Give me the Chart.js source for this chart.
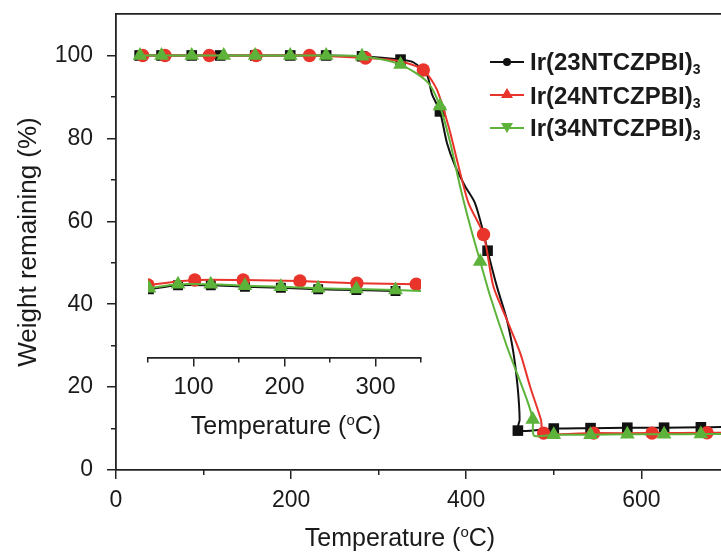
<!DOCTYPE html>
<html>
<head>
<meta charset="utf-8">
<script src="https://cdn.jsdelivr.net/npm/chart.js@4.4.0/dist/chart.umd.min.js"></script>
<style>
  html, body { margin: 0; padding: 0; background: #fff; overflow: hidden; }
  #wrap { position: relative; width: 721px; height: 554px; font-family: "Liberation Sans", Arial, sans-serif; color: #1a1a1a; }
  #wrap canvas { position: absolute; left: 0; top: 0; }
  .atitle { position: absolute; font-size: 25px; line-height: 25px; white-space: nowrap; transform: translateX(-50%); }
  .atitle sup { font-size: 15px; line-height: 0; vertical-align: 9px; }
  .lg-row { position: absolute; left: 490px; width: 230px; height: 34px; }
  .lg-line { position: absolute; left: 0; width: 34px; height: 2px; }
  .lg-mk { position: absolute; }
  .lg-txt { position: absolute; left: 40px; font-weight: bold; font-size: 24px; line-height: 24px; white-space: nowrap; }
  .lg-txt sub { font-size: 14px; line-height: 0; vertical-align: -4px; }
</style>
</head>
<body>
<div id="wrap">
  <canvas id="main" width="721" height="554"></canvas>
  <canvas id="inset" width="721" height="554"></canvas>
  <div id="legend"></div>
  <div class="atitle" style="left:400px; top:525px;">Temperature (<sup>o</sup>C)</div>
  <div class="atitle" style="left:286px; top:413px;">Temperature (<sup>o</sup>C)</div>
</div>
<script>
'use strict';

/* ── Data ────────────────────────────────────────────────────────────────── */
// main TGA curves: temperature (°C), weight (%), marker flag (1 = symbol drawn)
const t23 = [27, 52, 86.5, 119, 159, 199, 240, 281, 325, 340, 355, 361, 370, 378, 387.4, 398.9, 410, 419.8, 424.4, 435, 446.5, 454, 458.7, 461, 459, 500, 542, 584, 626, 668, 691];
const w23 = [100, 100, 100, 100, 100, 100, 100, 99.8, 99.0, 98.3, 95.4, 90.6, 86.5, 78.9, 73.3, 68.4, 64.4, 57.2, 52.9, 44.3, 36.2, 28.2, 20.1, 12.1, 9.5, 10.0, 10.1, 10.2, 10.2, 10.3, 10.35];
const m23 = [1, 1, 1, 1, 1, 1, 1, 1, 1, 0, 0, 0, 1, 0, 0, 0, 0, 0, 1, 0, 0, 0, 0, 0, 1, 1, 1, 1, 1, 1, 0];

const t24 = [30.5, 56, 106.6, 160, 221, 285, 324.6, 351, 366.4, 379.8, 391.2, 402.6, 419.8, 431, 446.5, 461.7, 473, 485.4, 488.4, 545.5, 612.2, 675, 691];
const w24 = [100, 100, 100, 100, 100, 99.4, 98.6, 96.5, 91.8, 82.9, 73.3, 64.4, 56.8, 44.3, 36.2, 28.2, 20.1, 12.1, 8.9, 8.9, 8.9, 9.0, 9.0];
const m24 = [1, 1, 1, 1, 1, 1, 0, 1, 0, 0, 0, 0, 1, 0, 0, 0, 0, 0, 1, 1, 1, 1, 0];

const t34 = [27.4, 52, 86.5, 123, 159, 199, 240, 281, 325, 356, 370, 381.7, 393, 404.6, 416, 427.4, 446.5, 469.4, 476, 477.5, 500, 542, 584, 626, 668, 691];
const w34 = [100, 100, 100, 100, 100, 100, 100, 99.8, 97.8, 93.5, 87.8, 79, 68.4, 58.8, 50.3, 41.9, 29.8, 16.9, 12.2, 8.3, 8.5, 8.5, 8.6, 8.6, 8.7, 8.7];
const m34 = [1, 1, 1, 1, 1, 1, 1, 1, 1, 0, 1, 0, 0, 0, 1, 0, 0, 0, 1, 0, 1, 1, 1, 1, 1, 0];

// inset curves (no y axis shown, arbitrary units)
const insT24 = [50, 101.4, 154.6, 217, 279.5, 344.8, 350];
const insV24 = [7.25, 7.75, 7.75, 7.65, 7.42, 7.32, 7.32];
const insT34 = [51, 83, 119, 156.5, 196, 237, 279, 322, 350];
const insV34 = [6.92, 7.32, 7.32, 7.18, 7.08, 6.92, 6.85, 6.75, 6.65];
const insT23 = [51, 83, 119, 156.5, 196, 237, 279, 322];
const insV23 = [6.82, 7.22, 7.22, 7.08, 6.98, 6.82, 6.75, 6.65];

// ticks
const xMajor = [0, 200, 400, 600];
const xMinor = [100, 300, 500];
const yMajor = [0, 20, 40, 60, 80, 100];
const yMinor = [10, 30, 50, 70, 90];
const insMajor = [100, 200, 300];
const insMinor = [50, 150, 250, 350];

const names = ['Ir(23NTCZPBI)', 'Ir(24NTCZPBI)', 'Ir(34NTCZPBI)'];

/* ── Style ───────────────────────────────────────────────────────────────── */
const BLACK = '#111111';
const RED   = '#e8342b';
const GREEN = '#5db33a';
const AX    = '#222222';
const FONT  = '"Liberation Sans", Arial, sans-serif';

Chart.defaults.font.family = FONT;
Chart.defaults.color = '#1a1a1a';

const pts = (xs, ys) => xs.map((x, i) => ({ x, y: ys[i] }));
const setTicks = vals => s => { s.ticks = vals.map(v => ({ value: v })); };

// drop the label overhang padding so the plot box sits where we put it
function noPad(s) {
  s.paddingTop = 0; s.paddingBottom = 0; s.paddingLeft = 0; s.paddingRight = 0;
}

function series(xs, ys, marks, color, style, r) {
  return {
    data: pts(xs, ys),
    borderColor: color,
    backgroundColor: color,
    borderWidth: 2,
    tension: 0.25,
    pointStyle: style,
    pointRadius: ctx => (marks[ctx.dataIndex] ? r : 0),
    pointBorderWidth: 0,
    pointBackgroundColor: color,
  };
}

function minorAxis(axis, pos, min, max, vals, len) {
  return {
    type: 'linear', axis, position: pos, min, max,
    afterBuildTicks: setTicks(vals),
    afterFit: noPad,
    border: { display: false },
    grid: { drawOnChartArea: false, color: AX, lineWidth: 1.5, tickLength: len },
    ticks: { display: false },
  };
}

/* ── Main chart ──────────────────────────────────────────────────────────── */
new Chart(document.getElementById('main'), {
  type: 'line',
  data: {
    datasets: [
      series(t34, w34, m34, GREEN, 'triangle', 8.5),
      series(t24, w24, m24, RED, 'circle', 6.7),
      series(t23, w23, m23, BLACK, 'rect', 7.5),
    ],
  },
  options: {
    responsive: false,
    animation: false,
    events: [],
    layout: { autoPadding: false, padding: { top: 14, left: 0, right: 0, bottom: 0 } },
    plugins: { legend: { display: false }, tooltip: { enabled: false } },
    scales: {
      x: {
        type: 'linear', min: 0, max: 691,
        afterBuildTicks: setTicks(xMajor),
        afterFit: s => { s.height = 84; noPad(s); },
        border: { color: AX, width: 1.8 },
        grid: { drawOnChartArea: false, color: AX, lineWidth: 1.5, tickLength: 9 },
        ticks: { font: { size: 23 }, padding: 8, maxRotation: 0 },
      },
      xMinor: minorAxis('x', { y: 0 }, 0, 691, xMinor, 5),
      xTop: {
        type: 'linear', axis: 'x', position: { y: 110 }, min: 0, max: 691,
        afterFit: noPad,
        border: { color: AX, width: 1.8 },
        grid: { display: false },
        ticks: { display: false },
      },
      y: {
        type: 'linear', min: 0, max: 110,
        afterBuildTicks: setTicks(yMajor),
        afterFit: s => { s.width = 116; noPad(s); },
        border: { color: AX, width: 1.8 },
        grid: { drawOnChartArea: false, color: AX, lineWidth: 1.5, tickLength: 9 },
        ticks: { font: { size: 23 }, padding: 14 },
        title: { display: true, text: 'Weight remaining (%)', font: { size: 26 }, padding: { top: 13 } },
      },
      yMinor: minorAxis('y', { x: 0 }, 0, 110, yMinor, 5),
    },
  },
});

/* ── Inset ───────────────────────────────────────────────────────────────── */
new Chart(document.getElementById('inset'), {
  type: 'line',
  data: {
    datasets: [
      series(insT34, insV34, insT34.map((_, i) => i < 8 ? 1 : 0), GREEN, 'triangle', 8.5),
      series(insT24, insV24, insT24.map((_, i) => i < 6 ? 1 : 0), RED, 'circle', 6.7),
      series(insT23, insV23, insT23.map(() => 1), BLACK, 'rect', 7),
    ],
  },
  options: {
    responsive: false,
    animation: false,
    events: [],
    layout: { autoPadding: false, padding: { top: 257.5, left: 148, right: 300, bottom: 0 } },
    plugins: { legend: { display: false }, tooltip: { enabled: false } },
    scales: {
      x: {
        type: 'linear', min: 50, max: 350,
        afterBuildTicks: setTicks(insMajor),
        afterFit: s => { s.height = 196.5; noPad(s); },
        border: { color: AX, width: 1.8 },
        grid: { drawOnChartArea: false, color: AX, lineWidth: 1.5, tickLength: 9 },
        ticks: { font: { size: 24 }, padding: 6, maxRotation: 0 },
      },
      xMinor: minorAxis('x', { y: 0 }, 50, 350, insMinor, 4.5),
      y: { type: 'linear', min: 0, max: 10, display: false },
    },
  },
});

/* ── Legend (HTML so the subscript 3 can be set) ─────────────────────────── */
const lgColors = [BLACK, RED, GREEN];
const lgMarks = [
  'left:13px;top:-3px;width:8px;height:8px;border-radius:50%;background:' + BLACK,
  'left:11px;top:-6px;width:0;height:0;border-left:6px solid transparent;border-right:6px solid transparent;border-bottom:10px solid ' + RED,
  'left:11px;top:-4px;width:0;height:0;border-left:6px solid transparent;border-right:6px solid transparent;border-top:10px solid ' + GREEN,
];
const lgLineY = [61.7, 95, 127.7];
const lgTextTop = [50.4, 83.7, 116.4];
const legend = document.getElementById('legend');
names.forEach((n, i) => {
  const row = document.createElement('div');
  row.className = 'lg-row';
  row.style.top = (lgLineY[i] - 1) + 'px';
  row.innerHTML =
    '<div class="lg-line" style="top:0;background:' + lgColors[i] + '"></div>' +
    '<div class="lg-mk" style="' + lgMarks[i] + '"></div>' +
    '<div class="lg-txt" style="top:' + (lgTextTop[i] - lgLineY[i] + 1) + 'px">' + n + '<sub>3</sub></div>';
  legend.appendChild(row);
});
</script>
</body>
</html>
